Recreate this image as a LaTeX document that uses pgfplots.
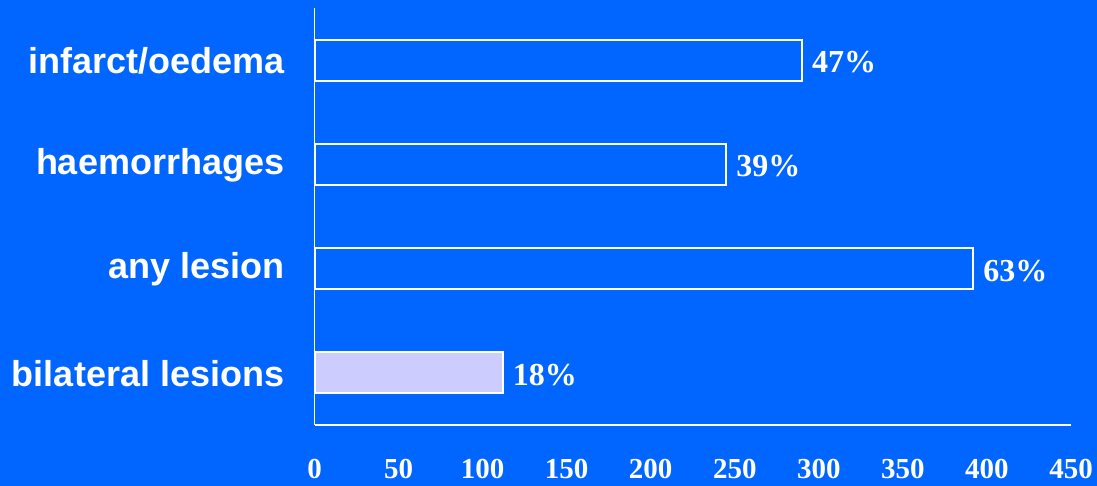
\documentclass[border=0pt]{standalone}
\usepackage{fontspec}
\setmainfont{Liberation Serif}
\newfontfamily\arialf{Liberation Sans}
\usepackage{pgfplots}
\pgfplotsset{compat=1.18}
\definecolor{bg}{RGB}{0,102,255}
\definecolor{lav}{RGB}{204,204,255}
\begin{document}
\begin{tikzpicture}
\fill[bg] (0,0) rectangle (548.5pt,243pt);
\useasboundingbox (0,0) rectangle (548.5pt,243pt);
\begin{axis}[
  at={(157.25pt,30.5pt)}, anchor=south west,
  scale only axis, width=378.25pt, height=208.5pt,
  xmin=0, xmax=450, ymin=-0.5, ymax=3.5,
  axis lines*=left,
  axis line style={white, line width=0.75pt, -},
  major tick length=0pt,
  xtick={0,50,...,450},
  ytick={0,1,2,3},
  yticklabels={bilateral lesions, any lesion, haemorrhages, infarct/oedema},
  /pgf/number format/assume math mode=true,
  x tick label style={font=\bfseries\fontsize{14.5}{14.5}\selectfont, text=white, anchor=center, yshift=-22pt},
  y tick label style={font=\arialf\bfseries\fontsize{18}{18}\selectfont, text=white, anchor=east, inner sep=0pt, xshift=-15pt, yshift=-0.5pt},
  xbar, bar width=20.5pt, bar shift=0pt,
  point meta=explicit symbolic,
  nodes near coords={\pgfplotspointmeta},
  nodes near coords style={font=\bfseries\fontsize{16}{16}\selectfont, text=white, anchor=west, inner sep=0pt, xshift=4.5pt, yshift=-1pt},
  clip=false,
]
\addplot[draw=white, line width=1pt, fill=bg] coordinates {(290,3) [47\%] (245,2) [39\%] (392,1) [63\%]};
\addplot[draw=white, line width=1pt, fill=lav] coordinates {(112,0) [18\%]};
\end{axis}
\end{tikzpicture}
\end{document}
